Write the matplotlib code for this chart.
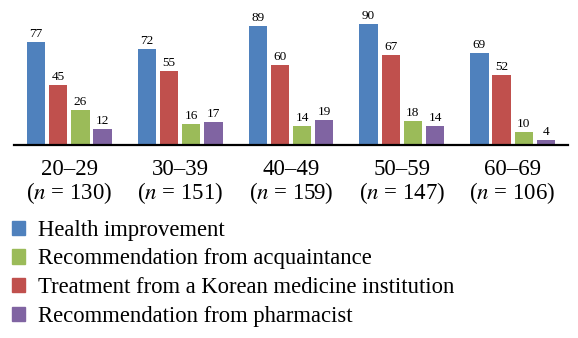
import numpy as np
import matplotlib
matplotlib.use("Agg")
import matplotlib.pyplot as plt
from matplotlib.patches import Patch

plt.rcParams['font.family'] = ['Liberation Serif', 'DejaVu Serif']
plt.rcParams['mathtext.fontset'] = 'stix'

groups = ["20–29", "30–39", "40–49", "50–59", "60–69"]
sizes = [130, 151, 159, 147, 106]
health = [77, 72, 89, 90, 69]
korean = [45, 55, 60, 67, 52]
acquaint = [26, 16, 14, 18, 10]
pharm = [12, 17, 19, 14, 4]

series = [
    ("Health improvement", health, "#4F81BD"),
    ("Treatment from a Korean medicine institution", korean, "#C0504D"),
    ("Recommendation from acquaintance", acquaint, "#9BBB59"),
    ("Recommendation from pharmacist", pharm, "#8064A2"),
]

fig = plt.figure(figsize=(5.78, 3.38), dpi=100)
ax = fig.add_axes([14 / 578, 1 - 145 / 338, 554 / 578, 145 / 338 - 0.005])

x = np.arange(len(groups))
offsets = [-0.3, -0.1, 0.1, 0.3]
for (name, vals, col), off in zip(series, offsets):
    ax.bar(x + off, vals, width=0.165, color=col, zorder=2)
    for xi, v in zip(x + off, vals):
        ax.text(xi, v + 1.5, str(v), ha="center", va="bottom", fontsize=9.5)

ax.set_xlim(-0.5, 4.5)
ax.set_ylim(0, 107)
ax.set_xticks(x)
ax.set_xticklabels([f"{g}\n($n$ = {n})" for g, n in zip(groups, sizes)],
                   fontsize=16.5, linespacing=1.0)
ax.tick_params(axis="x", length=0, pad=10)
ax.set_yticks([])
for s in ["top", "left", "right"]:
    ax.spines[s].set_visible(False)
ax.spines["bottom"].set_linewidth(1.6)

order = ["Health improvement", "Recommendation from acquaintance",
         "Treatment from a Korean medicine institution",
         "Recommendation from pharmacist"]
cols = {name: col for name, _, col in series}
handles = [Patch(color=cols[n]) for n in order]
fig.legend(handles, order, loc="upper left", bbox_to_anchor=(0.02, 0.35),
           frameon=False, fontsize=16.3, handlelength=0.6, handleheight=0.6,
           handletextpad=0.55, labelspacing=0.34, borderpad=0, borderaxespad=0)

plt.savefig("out.png", dpi=100)
